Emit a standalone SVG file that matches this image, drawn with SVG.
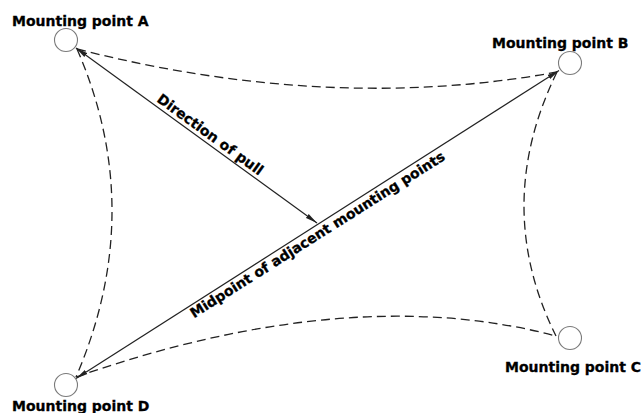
<svg xmlns="http://www.w3.org/2000/svg" width="641" height="413" viewBox="0 0 641 413">
  <style>
    .bg { fill: #ffffff; }
    .pt { fill: #ffffff; stroke: #7a7a7a; stroke-width: 1.1; }
    .lbl { font-family: "DejaVu Sans", Verdana, sans-serif; font-weight: bold; font-size: 14px; fill: #000000; stroke: #000000; stroke-width: 0.3; }
    .dash { fill: none; stroke: #222222; stroke-width: 1.3; stroke-dasharray: 9 5; }
    .arrow { fill: none; stroke: #222222; stroke-width: 1.2; marker-start: url(#head); marker-end: url(#head); }
  </style>
  <defs>
    <marker id="head" viewBox="0 0 12 6" refX="12" refY="3" markerWidth="12" markerHeight="6" markerUnits="userSpaceOnUse" orient="auto-start-reverse">
      <path d="M0,0.6 L12,3 L0,5.4 Z" fill="#222222"/>
    </marker>
  </defs>
  <rect class="bg" x="0" y="0" width="641" height="413"/>

  <g id="connectors">
    <path id="edge-AB" class="dash" d="M77,49 Q330,113.5 557,72"/>
    <path id="edge-DC" class="dash" d="M76,377 Q350,281.5 556,336"/>
    <path id="edge-AD" class="dash" d="M77,49 Q147.5,211 76,377"/>
    <path id="edge-BC" class="dash" d="M557,72 Q491.5,206 556,336"/>
    <path id="pull" class="arrow" d="M76,48 L317,223"/>
    <path id="midline" class="arrow" d="M76,378.5 L559,70.5"/>
    <text class="lbl" transform="translate(156,101) rotate(36)">Direction of pull</text>
    <text class="lbl" transform="translate(194,318.5) rotate(-32.3)">Midpoint of adjacent mounting points</text>
  </g>

  <g id="point-A">
    <circle class="pt" cx="66" cy="40" r="11.5"/>
    <text class="lbl" x="12" y="26">Mounting point A</text>
  </g>
  <g id="point-B">
    <circle class="pt" cx="570" cy="63" r="11.5"/>
    <text class="lbl" x="492" y="48">Mounting point B</text>
  </g>
  <g id="point-C">
    <circle class="pt" cx="570" cy="338" r="11.5"/>
    <text class="lbl" x="505" y="372">Mounting point C</text>
  </g>
  <g id="point-D">
    <circle class="pt" cx="66" cy="385" r="11.5"/>
    <text class="lbl" x="12" y="411">Mounting point D</text>
  </g>
</svg>
